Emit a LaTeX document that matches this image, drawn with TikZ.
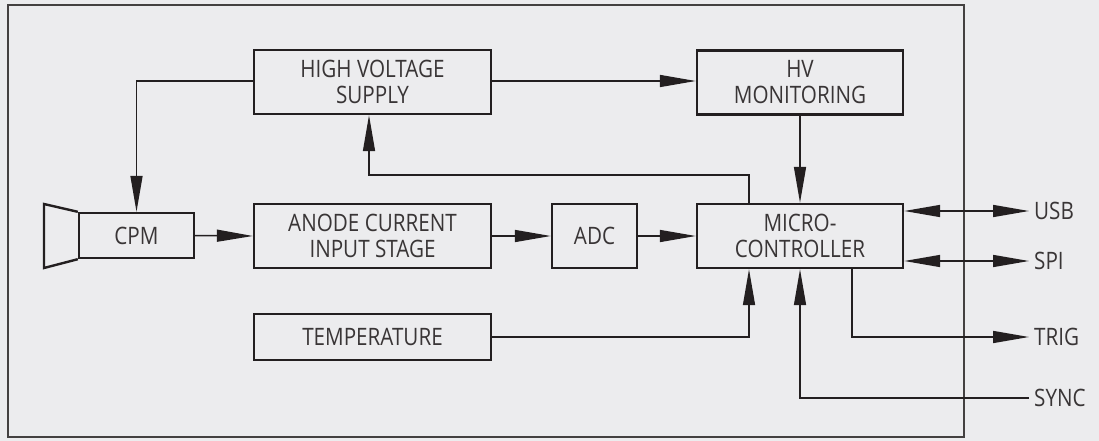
\documentclass[tikz,border=0pt]{standalone}
\usepackage{fontspec}
\setmainfont{Open Sans}[FakeStretch=0.86]
\usetikzlibrary{arrows.meta}
\definecolor{bg}{HTML}{ECECEE}
\definecolor{ink}{HTML}{231F20}
\tikzset{
  box/.style={draw=ink, line width=2.4pt, rectangle, align=center, inner sep=0pt,
    font=\fontsize{24}{26}\selectfont, text=ink!90},
  conn/.style={draw=ink, line width=1.5pt},
  tip/.style={-{Triangle[length=36pt,width=12pt]}},
  lbl/.style={anchor=west, inner xsep=5pt, inner ysep=0pt, font=\fontsize{24}{26}\selectfont, text=ink!90},
}
\begin{document}
\begin{tikzpicture}[x=1pt, y=-1pt]
\fill[bg] (0,0) rectangle (1099,441);
\useasboundingbox (0,0) rectangle (1099,441);
\draw[draw=ink!85, line width=2pt] (8,5) rectangle (964,437);

\node[box, minimum width=237pt, minimum height=64pt] (hv) at (372.5,82) {HIGH VOLTAGE\\SUPPLY};
\node[box, minimum width=206pt, minimum height=64pt] (hvm) at (800,82.5) {HV\\MONITORING};
\node[box, minimum width=115pt, minimum height=45pt] (cpm) at (136.5,235.5) {CPM};
\node[box, minimum width=237pt, minimum height=64pt] (anode) at (372.5,236) {ANODE CURRENT\\INPUT STAGE};
\node[box, minimum width=85pt, minimum height=64pt] (adc) at (594.5,236) {ADC};
\node[box, minimum width=206pt, minimum height=64pt] (mc) at (800,236) {MICRO-\\CONTROLLER};
\node[box, minimum width=237pt, minimum height=46pt] (temp) at (372.5,337) {TEMPERATURE};

% CPM horn
\draw[draw=ink, line width=2.4pt, line join=miter] (cpm.north west) -- (44,204) -- (44,268) -- (cpm.south west);

% labels
\node[lbl] (usb) at (1029,211) {USB};
\node[lbl] (spi) at (1029,261) {SPI};
\node[lbl] (trig) at (1029,337) {TRIG};
\node[lbl] (sync) at (1029,398) {SYNC};

% connectors
\draw[conn, tip] (hv.west |- 0,81) -| (cpm.north);
\draw[conn, tip] (hv.east |- 0,81) -- (hvm.west |- 0,81);
\draw[conn, tip] (hvm.south) -- (mc.north);
\draw[conn, tip] (mc.north -| 749,0) |- (369,175) -- (hv.south -| 369,0);
\draw[conn, tip] (cpm.east) -- (anode.west);
\draw[conn, tip] (anode.east) -- (adc.west);
\draw[conn, tip] (adc.east) -- (mc.west);
\draw[conn, tip] (temp.east) -| (mc.south -| 749,0);
\draw[conn, {Triangle[length=36pt,width=12pt]}-{Triangle[length=36pt,width=12pt]}] (mc.east |- 0,211) -- (usb.west);
\draw[conn, {Triangle[length=36pt,width=12pt]}-{Triangle[length=36pt,width=12pt]}] (mc.east |- 0,261) -- (spi.west);
\draw[conn, tip] (mc.south -| 852,0) |- (trig.west);
\draw[conn, tip] (sync.west) -| (mc.south);
\end{tikzpicture}
\end{document}
